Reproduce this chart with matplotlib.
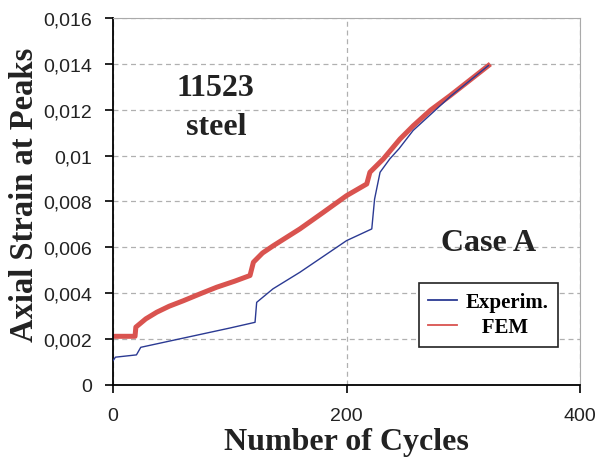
import matplotlib

matplotlib.use("Agg")
import matplotlib.pyplot as plt
from matplotlib.ticker import FuncFormatter

# Experimental peak strain (thin blue)
exp_cycles = [0, 2, 20, 23.7, 60, 100, 121.6, 123, 137, 160, 200, 221.6, 224, 228.7, 237, 245, 257, 289, 321.5]
exp_strain = [0.00106, 0.00121, 0.00131, 0.00164, 0.00204, 0.00248, 0.00273, 0.0036, 0.00419, 0.00491, 0.00629,
              0.0068, 0.0081, 0.00927, 0.00985, 0.0103, 0.01109, 0.01258, 0.01392]

# FEM peak strain (thick red)
fem_cycles = [0, 18.8, 19.5, 28, 37.4, 48, 60.2, 75, 88.8, 104, 117.3, 120.2, 128, 137.3, 160, 180, 200, 217.3,
              220, 231.5, 245.8, 257.2, 272, 288.7, 305, 321.5]
fem_strain = [0.00212, 0.00212, 0.00252, 0.00288, 0.00317, 0.00343, 0.00367, 0.00398, 0.00426, 0.00452, 0.00477,
              0.00535, 0.00575, 0.00607, 0.0068, 0.00752, 0.00825, 0.00876, 0.00927, 0.00985, 0.01072, 0.0113,
              0.01198, 0.01261, 0.01326, 0.01392]

x_ticks = [0, 200, 400]
y_ticks = [0, 0.002, 0.004, 0.006, 0.008, 0.01, 0.012, 0.014, 0.016]

fig = plt.figure(figsize=(6.08, 4.60), dpi=100)
ax = fig.add_axes([0.186, 0.161, 0.768, 0.798])

ax.plot(exp_cycles, exp_strain, color="#2b3a93", lw=1.0, label="Experim.", zorder=3)
ax.plot(fem_cycles, fem_strain, color="#d9534f", lw=3.6, label="   FEM", zorder=2)

ax.set_xlim(0, 400)
ax.set_ylim(0, 0.016)
ax.set_xticks(x_ticks)
ax.set_yticks(y_ticks)
ax.yaxis.set_major_formatter(FuncFormatter(lambda v, _: "0" if v == 0 else f"{v:g}".replace(".", ",")))
ax.grid(True, color="#b0b0b0", ls="--", lw=0.9, dashes=(4, 3))
ax.set_axisbelow(True)

for lab in ax.get_xticklabels() + ax.get_yticklabels():
    lab.set_fontfamily("Liberation Sans")
    lab.set_fontsize(14)
    lab.set_color("#222222")
ax.tick_params(axis="y", direction="out", length=6, width=1.2, pad=9)
ax.tick_params(axis="x", direction="out", length=6, width=1.2, pad=10)

ax.spines["top"].set_color("#aaaaaa")
ax.spines["right"].set_color("#aaaaaa")
ax.spines["left"].set_linewidth(1.3)
ax.spines["bottom"].set_linewidth(1.3)

serif = dict(family="Liberation Serif", weight="bold", color="#222222")
ax.set_xlabel("Number of Cycles", fontsize=23, labelpad=2, **serif)
ax.set_ylabel("Axial Strain at Peaks", fontsize=23.5, **serif)
ax.yaxis.set_label_coords(-0.157, 0.52)

ax.text(88, 0.0121, "11523\nsteel", ha="center", va="center", fontsize=23, linespacing=1.45, **serif)
ax.text(322, 0.00623, "Case A", ha="center", va="center", fontsize=23, **serif)

leg = ax.legend(loc="upper left", bbox_to_anchor=(0.655, 0.278), fancybox=False, framealpha=1,
                edgecolor="#222222", prop=dict(family="Liberation Serif", weight="bold", size=15),
                handlelength=1.4, handletextpad=0.4, borderpad=0.45, labelspacing=0.25, borderaxespad=0)
leg.get_frame().set_linewidth(1.2)
for h in leg.get_lines():
    h.set_linewidth(1.3)

fig.savefig("out.png", dpi=100)
